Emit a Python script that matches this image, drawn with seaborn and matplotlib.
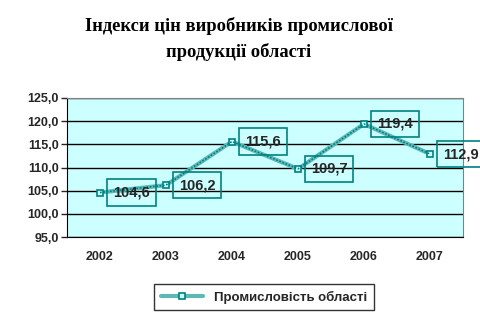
import matplotlib
matplotlib.use("Agg")
import matplotlib.pyplot as plt
import seaborn as sns
import pandas as pd

years = ["2002", "2003", "2004", "2005", "2006", "2007"]
values = [104.6, 106.2, 115.6, 109.7, 119.4, 112.9]
series_name = "Промисловість області"
title = "Індекси цін виробників промислової\nпродукції області"
yticks = [95, 100, 105, 110, 115, 120, 125]

sns.set_style("white")
plt.rcParams['font.family'] = ['Liberation Sans', 'DejaVu Sans']

df = pd.DataFrame({"pos": range(len(years)), "value": values})

fig = plt.figure(figsize=(4.81, 3.21), dpi=100)
ax = fig.add_axes([67/481, 1 - 237/321, (463-67)/481, (237-98)/321])
ax.set_facecolor("#CCFFFF")

teal = "#008080"
sns.lineplot(data=df, x="pos", y="value", ax=ax, color="#5FB8B8", lw=3.0,
             marker="s", markersize=4.5, markerfacecolor="#CCFFFF",
             markeredgecolor=teal, markeredgewidth=1.2, label=series_name, zorder=3)
ax.plot(df["pos"], df["value"], color=teal, lw=1.2, ls=(0, (1, 1)), zorder=3.5)

for x, v in zip(df["pos"], values):
    ax.annotate(f"{v:.1f}".replace(".", ","), xy=(x, v), xytext=(31, 0),
                textcoords="offset pixels",
                ha="center", va="center", fontsize=10.5, fontweight="bold",
                bbox=dict(boxstyle="square,pad=0.42", fc="none", ec=teal, lw=1.2),
                zorder=5, annotation_clip=False)

ax.set_xlim(-0.5, len(years) - 0.5)
ax.set_ylim(95, 125)
ax.set_yticks(yticks)
ax.set_yticklabels([f"{t:.1f}".replace(".", ",") for t in yticks], fontsize=9, fontweight="bold")
ax.set_xticks(range(len(years)))
ax.set_xticklabels(years, fontsize=9, fontweight="bold")
ax.set_xlabel("")
ax.set_ylabel("")
ax.yaxis.grid(True, color="black", lw=1)
ax.set_axisbelow(True)
for s in ["top", "right"]:
    ax.spines[s].set_color("#808080")
ax.spines["left"].set_color("black")
ax.spines["bottom"].set_color("black")
ax.tick_params(axis="y", length=4, width=1, direction="out", left=True, pad=2)
ax.tick_params(axis="x", length=0, pad=10)

leg = ax.legend(loc="center", bbox_to_anchor=(264/481, 1 - 297/321),
                bbox_transform=fig.transFigure, frameon=True, fancybox=False,
                edgecolor="black", prop=dict(weight="bold", size=9.5),
                handlelength=3.2, borderpad=0.5)
leg.get_frame().set_linewidth(1)

fig.text(239/481, 1 - 39/321, title, ha="center", va="center", fontsize=13.3,
         fontweight="bold", color="black", family=["Liberation Serif", "DejaVu Serif"],
         linespacing=1.6)

fig.savefig("out.png", dpi=100)
